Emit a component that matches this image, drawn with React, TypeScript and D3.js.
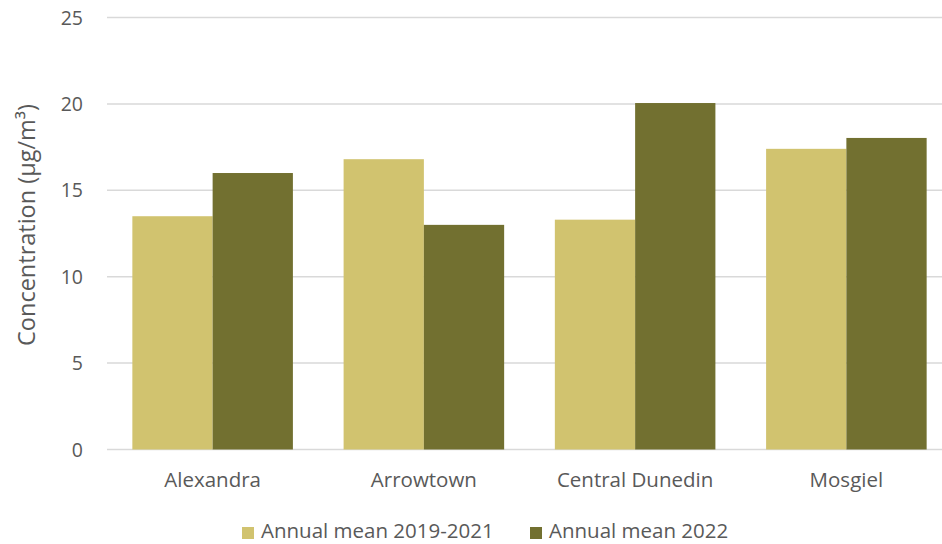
import React from "react";
import * as d3 from "d3";

const categories = ["Alexandra", "Arrowtown", "Central Dunedin", "Mosgiel"];
const seriesNames = ["Annual mean 2019-2021", "Annual mean 2022"];
const mean2019_2021 = [13.5, 16.8, 13.3, 17.4];
const mean2022 = [16.0, 13.0, 20.05, 18.03];
const yTicks = [0, 5, 10, 15, 20, 25];
const colors = ["#D1C36F", "#727030"];

const W = 942;
const H = 544;
const left = 107;
const right = 952;
const top = 17.5;
const bottom = 449.5;
const FONT = "'Open Sans', 'Liberation Sans', sans-serif";
const TEXT = "#595959";

export default function App() {
  const y = d3.scaleLinear().domain([0, 25]).range([bottom, top]);
  const x0 = d3.scaleBand().domain(categories).range([left, right]).paddingInner(0.24).paddingOuter(0.12);
  const x1 = d3.scaleBand().domain(["a", "b"]).range([0, x0.bandwidth()]);
  const series = [mean2019_2021, mean2022];
  return (
    <svg width={W} height={H} style={{ position: "absolute", left: 0, top: 0, background: "#fff" }} fontFamily={FONT}>
      {yTicks.map((t) => (
        <g key={t}>
          <line x1={left} x2={W} y1={y(t)} y2={y(t)} stroke="#D9D9D9" strokeWidth={1.5} />
          <text x={83} y={y(t)} dy="0.36em" textAnchor="end" fontSize={19.5} fill={TEXT}>
            {t}
          </text>
        </g>
      ))}
      {categories.map((c, i) => (
        <g key={c}>
          {series.map((s, j) => (
            <rect
              key={j}
              x={(x0(c) as number) + (x1(j === 0 ? "a" : "b") as number)}
              width={x1.bandwidth()}
              y={y(s[i])}
              height={y(0) - y(s[i])}
              fill={colors[j]}
            />
          ))}
          <text x={(x0(c) as number) + x0.bandwidth() / 2} y={487} textAnchor="middle" fontSize={20.5} fill={TEXT}>
            {c}
          </text>
        </g>
      ))}
      <text transform={`translate(35,225) rotate(-90)`} textAnchor="middle" fontSize={23.5} fill={TEXT}>
        Concentration (µg/m³)
      </text>
      {seriesNames.map((n, j) => {
        const lx = j === 0 ? 242 : 530;
        return (
          <g key={n}>
            <rect x={lx} y={527} width={12} height={12} fill={colors[j]} />
            <text x={lx + 19} y={538} fontSize={20.5} fill={TEXT}>
              {n}
            </text>
          </g>
        );
      })}
    </svg>
  );
}
